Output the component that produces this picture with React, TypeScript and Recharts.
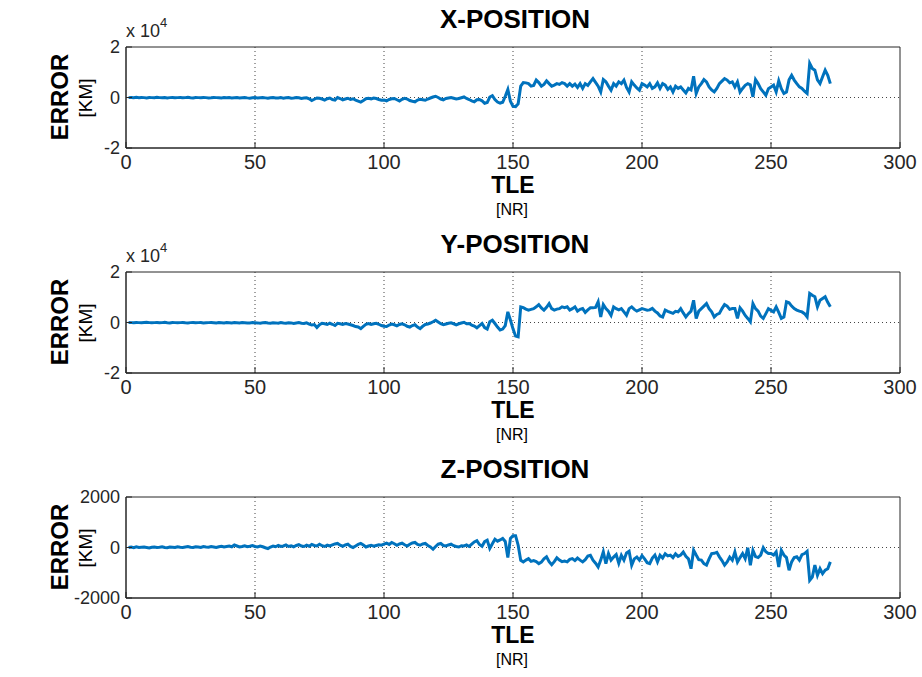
import React from 'react';
import { LineChart, Line, XAxis, YAxis, CartesianGrid, ReferenceArea } from 'recharts';

// position error per TLE number, km
const xErr = [
  -50, 0, -100, 50, -100, 0, -50, -150, 0, -50,
  -100, 50, -50, -100, 0, -150, -50, 0, -100, -50,
  0, -100, -50, 50, -100, -150, 0, -50, -100, 0,
  -50, -150, -100, 0, -50, -100, -200, -50, -100, 0,
  -150, -100, -50, -200, -100, 0, -150, -250, -100, -50,
  -200, -100, -50, -150, -300, -100, 0, -200, -150, -50,
  -250, -100, -50, -300, -200, 0, -100, -350, -200, -100,
  -500, -1200, -700, -200, -300, -600, -1000, -500, -200, -800,
  -1000, 0, -400, -900, -600, -300, -800, -500, -1000, -1400,
  -1800, -1200, -500, -300, -600, -200, -400, -800, -1100, -1000,
  -1300, -800, -500, -400, -900, -1400, -700, -300, -600, -1200,
  -1500, -1700, -1000, -700, -900, -1100, -600, -200, 200, 500,
  0, -600, -900, -400, -200, 0, -300, -600, -400, -100,
  200, -400, -800, -1300, -1700, -900, -800, -1300, -2300, -2000,
  200, 700, -800, -1800, -2200, -1900, 500, 3200, -1500, -3500,
  -3600, -2500, 4500, 5900, 5800, 5500, 4500, 4800, 6900, 5900,
  4500, 5200, 6600, 5500, 4500, 4900, 5500, 5200, 5900, 5500,
  4500, 5500, 4500, 5300, 4000, 5500, 3600, 5500, 4800, 6200,
  7500, 6000, 4500, 2200, 7100, 6200, 4500, 2900, 5500, 4500,
  6200, 5500, 6900, 4000, 2200, 6200, 4900, 3800, 2900, 5500,
  4900, 4200, 5500, 3600, 4200, 5800, 3600, 5500, 4900, 3200,
  4200, 2200, 4500, 3600, 4200, 3000, 1800, 3600, 3000, 8400,
  1600, 4200, 5500, 7100, 6200, 4200, 3000, 2200, 3600, 5500,
  6500, 7500, 6900, 5800, 6200, 4200, 6200, 2200, 3600, 4800,
  5500, 5000, 260, 7100, 5500, 3500, 2200, 900, 3500, 4200,
  4900, 2200, 6600, 3500, 1600, 2200, 7000, 8800, 6900, 5500,
  4200, 3600, 2500, 1600, 13500, 11500, 10800, 7000, 5500, 8200,
  10800, 8800, 5500,
];

const yErr = [
  0, -50, -100, 0, -50, -100, 0, 50, -50, -100,
  -50, 0, -100, -50, 50, -100, -150, 0, -50, -100,
  -50, 0, -100, -150, -50, 0, -100, -50, 0, -150,
  -100, -50, 0, -100, -200, -50, -100, -150, 0, -100,
  -200, -50, -100, -150, 0, -100, -200, -150, -50, -100,
  -150, -250, -100, 0, -200, -300, -100, -150, -250, 0,
  -200, -300, -100, -150, -350, -200, -50, -300, -400, -150,
  -600, -1000, -800, -2000, -900, -300, -500, -800, -300, -700,
  -1200, -300, -500, -800, -400, -600, -900, -1200, -1600, -1800,
  -2400, -1500, -700, -400, -800, -500, -300, -700, -1200, -1500,
  -1600, -1000, -600, -900, -1300, -800, -500, -900, -1500, -1800,
  -1200, -900, -1800, -2400, -1500, -800, -600, -200, 300, 900,
  200, -500, -900, -600, -300, -100, -500, -900, -500, -200,
  100, -500, -400, -1000, -1400, -2100, -1200, -400, -2000, -2600,
  300, 900, -400, -1800, -3000, -2600, -1200, 4200, 1000, -2500,
  -5400, -5700, 6200, 5900, 5300, 4900, 5200, 5500, 6200, 7100,
  5800, 4900, 6000, 7500, 5500, 4900, 5300, 5500, 6200, 5900,
  6200, 4900, 5500, 6200, 4500, 5200, 5500, 4000, 5000, 5800,
  5800, 6000, 8200, 2200, 7100, 5500, 4500, 2800, 6200, 5500,
  5000, 5500, 4200, 2900, 5500, 6200, 5200, 4500, 5000, 5500,
  5200, 4900, 5000, 5600, 4500, 3800, 2600, 2200, 4900, 4400,
  4000, 3600, 4400, 4200, 5500, 3800, 2200, 3500, 4500, 8800,
  1600, 4500, 5500, 6500, 7500, 5500, 4200, 2200, 3200, 3600,
  5500, 7100, 6500, 5200, 5500, 5500, 1600, 5800, 4500, 2800,
  1600, 260, 7500, 5500, 4500, 2500, 1600, 3500, 5500, 4800,
  4200, 6200, 4000, 1600, 2200, 8200, 7800, 6500, 5500, 4900,
  4500, 4200, 3500, 2200, 11500, 10800, 10200, 6200, 8800, 9500,
  10200, 8000, 6200,
];

const zErr = [
  0, 20, -10, 30, 0, 10, 20, 0, -20, 10,
  20, 0, 10, 30, 0, -10, 20, 10, 0, 30,
  10, 0, 20, 40, 10, 0, 30, 20, 0, 40,
  20, 10, 40, 20, 0, 30, 50, 20, 40, 60,
  30, 100, 60, 20, 40, 70, 30, 50, 80, 40,
  20, 60, 30, -10, -40, 20, 60, 30, 80, 40,
  60, 100, 40, 70, 30, 80, 110, 60, 40, 90,
  50, 120, 80, 60, 130, 70, 40, 90, 60, 100,
  140, 160, 90, 50, 100, 130, 40, 0, 60, 120,
  160, 100, 20, 60, 90, 50, 80, 110, 90, 130,
  170, 120, 200, 150, 90, 140, 170, 110, 60, 130,
  180, 200, 120, 90, 140, 160, 80, 20, -70, 40,
  130, 160, 80, 60, 100, 130, 70, 40, 20, 70,
  60, 100, 40, 130, 220, 270, 120, 50, 230, 290,
  -40, 150, 330, 250, 300, 360, 240, -400, 360, 470,
  470, 90, -510, -570, -500, -440, -550, -520, -560, -640,
  -580, -450, -370, -560, -680, -560, -410, -500, -560, -540,
  -570, -470, -440, -520, -420, -500, -570, -480, -340, -310,
  -500, -620, -770, -500, -170, -640, -240, -500, -380, -280,
  -620, -310, -500, -220, -150, -700, -450, -380, -500, -320,
  -450, -600, -640, -420, -300, -570, -310, -420, -250, -330,
  -300, -400, -250, -350, -300, -180, -350, -450, -840, -110,
  -300, -480, -500, -640, -700, -450, -240, -230, -190, -370,
  -520, -700, -570, -380, -500, -180, -580, -400, -240, -440,
  -10, -700, -110, -360, -400, -300, -10, -170, -240, -240,
  -300, -170, -770, -110, -300, -400, -900, -570, -400, -370,
  -500, -280, -240, -150, -1300, -1170, -700, -1100, -840, -1040,
  -900, -840, -570,
];

const tle = xErr.map((_, i) => i + 1);
const xTicks = [0, 50, 100, 150, 200, 250, 300];

const FONT = '"Liberation Sans", Arial, Helvetica, sans-serif';
const AXIS = '#262626';
const BLUE = '#0072BD';
const PANEL_W = 922;
const PANEL_H = 225;

interface PanelProps {
  values: number[];
  limit: number;
  scale: number;
}

const Panel: React.FC<PanelProps> = ({ values, limit, scale }) => {
  const data = tle.map((t, i) => ({ tle: t, err: values[i] }));
  const yTicks = [-limit, 0, limit];
  const fmt = (v: number) => String(v / scale);
  return (
    <LineChart
      width={PANEL_W}
      height={PANEL_H}
      data={data}
      margin={{ top: 47, right: 22, bottom: 47, left: 86 }}
    >
      <CartesianGrid
        stroke="#444"
        strokeDasharray="1 3"
        horizontalValues={[0]}
        verticalValues={[50, 100, 150, 200, 250]}
      />
      <XAxis
        type="number"
        dataKey="tle"
        domain={[0, 300]}
        ticks={xTicks}
        height={30}
        tickSize={-6}
        tickMargin={13}
        stroke={AXIS}
        tick={{ fontSize: 20, fill: AXIS, fontFamily: FONT }}
      />
      <XAxis
        xAxisId="top"
        orientation="top"
        type="number"
        dataKey="tle"
        domain={[0, 300]}
        ticks={xTicks}
        height={0}
        tickSize={-6}
        tick={false}
        stroke={AXIS}
      />
      <YAxis
        type="number"
        domain={[-limit, limit]}
        ticks={yTicks}
        width={40}
        tickSize={-6}
        tickMargin={12}
        tickFormatter={fmt}
        stroke={AXIS}
        tick={{ fontSize: 18, fill: AXIS, fontFamily: FONT }}
      />
      <YAxis
        yAxisId="right"
        orientation="right"
        type="number"
        domain={[-limit, limit]}
        ticks={yTicks}
        width={0}
        tickSize={-6}
        tick={false}
        stroke={AXIS}
      />
      <ReferenceArea
        x1={0}
        x2={300}
        y1={-limit}
        y2={limit}
        fill="none"
        stroke={AXIS}
        strokeWidth={1}
      />
      <Line
        type="linear"
        dataKey="err"
        stroke={BLUE}
        strokeWidth={3}
        dot={false}
        isAnimationActive={false}
      />
    </LineChart>
  );
};

const panels = [
  { title: 'X-POSITION', values: xErr, limit: 20000, scale: 10000, exp: true },
  { title: 'Y-POSITION', values: yErr, limit: 20000, scale: 10000, exp: true },
  { title: 'Z-POSITION', values: zErr, limit: 2000, scale: 1, exp: false },
];

export default function App() {
  return (
    <div style={{ position: 'absolute', left: 0, top: 0, width: 922, height: 677, background: '#fff' }}>
      {panels.map((p, i) => (
        <div key={p.title} style={{ position: 'absolute', left: 0, top: i * PANEL_H }}>
          <Panel values={p.values} limit={p.limit} scale={p.scale} />
        </div>
      ))}
      <svg
        width={922}
        height={677}
        style={{ position: 'absolute', left: 0, top: 0, pointerEvents: 'none' }}
        fontFamily={FONT}
        fill="#000"
      >
        {panels.map((p, i) => {
          const o = i * PANEL_H;
          return (
            <g key={p.title}>
              <text x={515} y={o + 28} textAnchor="middle" fontSize={26} fontWeight="bold">{p.title}</text>
              <text x={513} y={o + 193} textAnchor="middle" fontSize={23} fontWeight="bold">TLE</text>
              <text x={512} y={o + 215} textAnchor="middle" fontSize={16}>[NR]</text>
              <text transform={`translate(68, ${o + 97})rotate(-90)`} textAnchor="middle" fontSize={24} fontWeight="bold">ERROR</text>
              <text transform={`translate(92, ${o + 98})rotate(-90)`} textAnchor="middle" fontSize={19}>[KM]</text>
              {p.exp && (
                <text x={126} y={o + 37} fontSize={18} fill={AXIS}>
                  x 10<tspan dy={-10} fontSize={13}>4</tspan>
                </text>
              )}
            </g>
          );
        })}
      </svg>
    </div>
  );
}
